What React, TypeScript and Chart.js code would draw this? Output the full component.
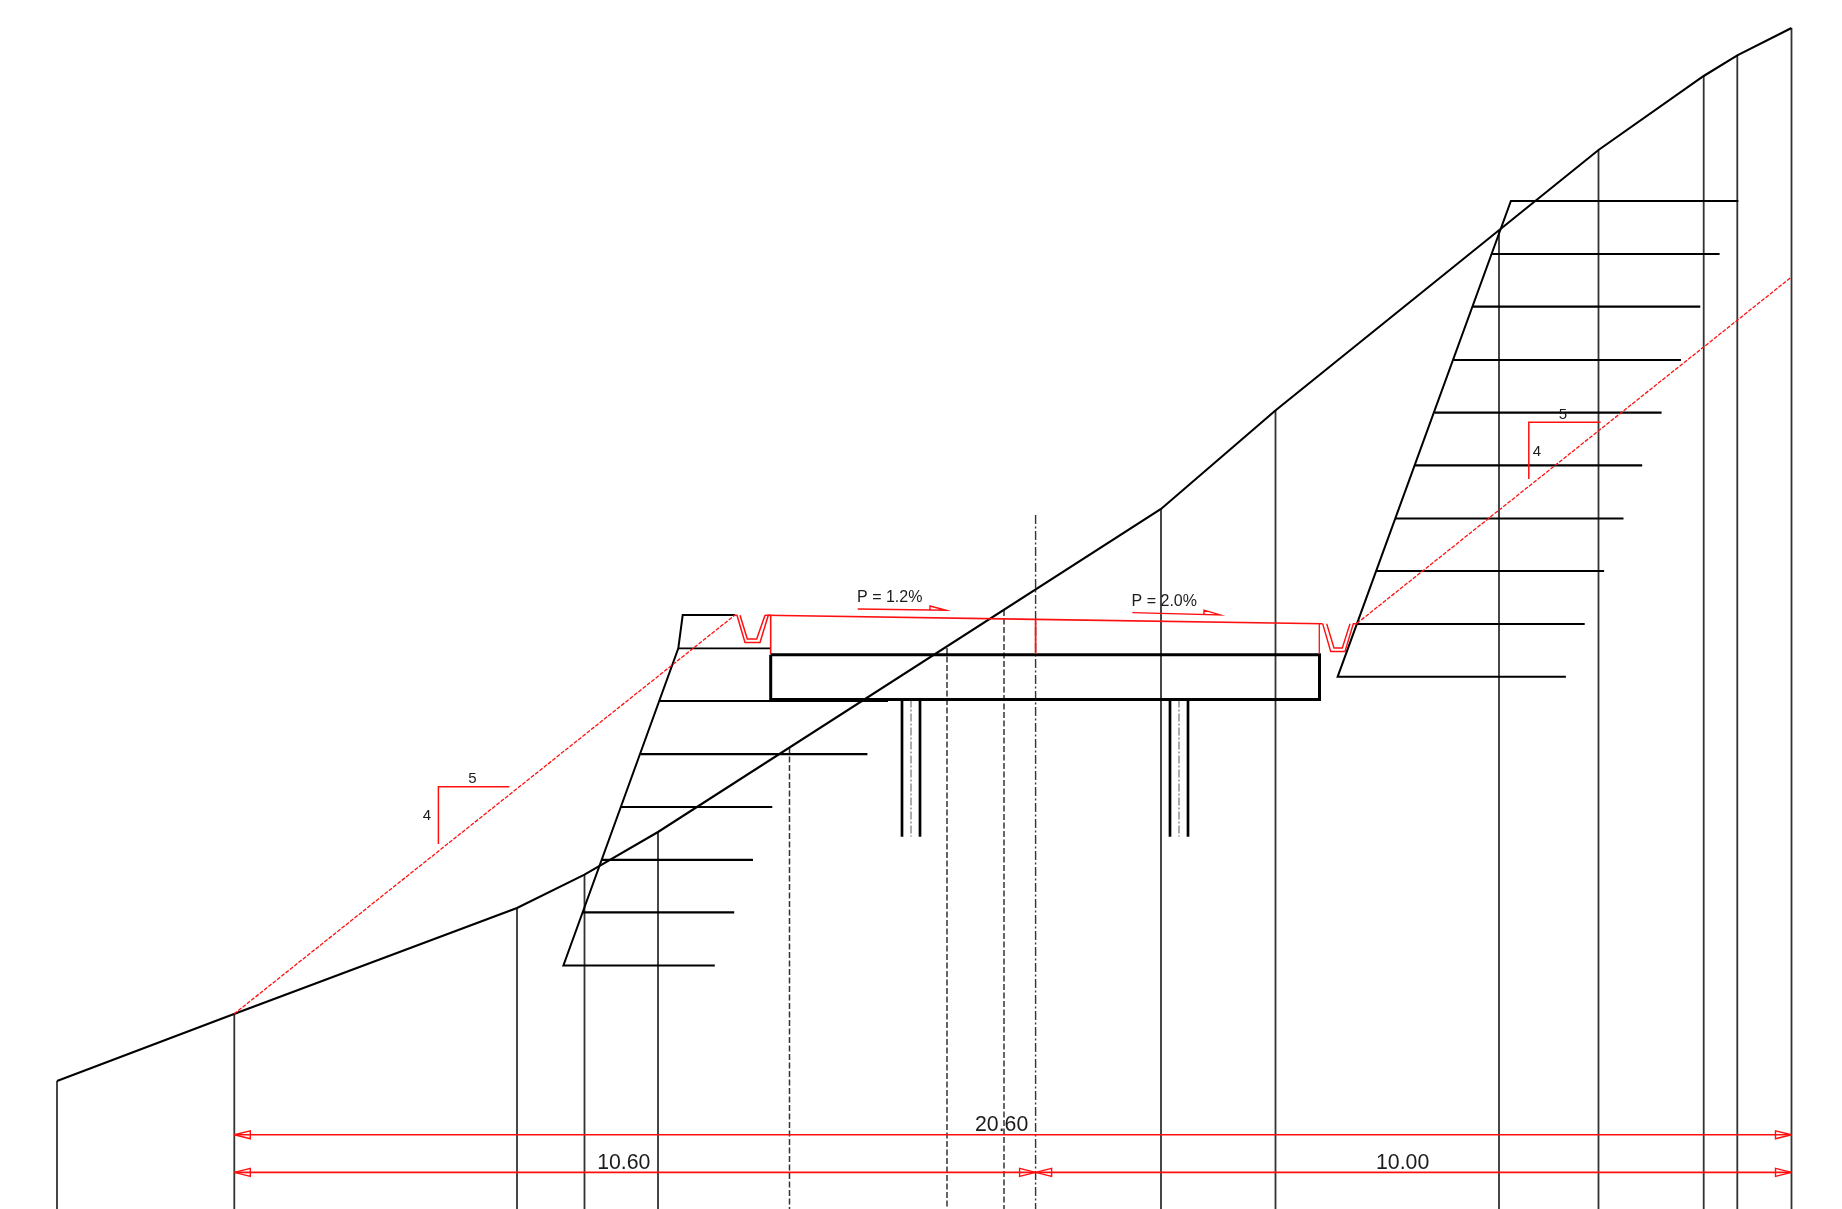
import React, { useEffect, useRef } from "react";
import { Chart, registerables } from "chart.js";

Chart.register(...registerables);

type Pt = [number, number];

// Cross-section geometry (station, depth in drawing units).
const groundLine: Pt[] = [[57, 1081], [234, 1014], [517, 908], [584.5, 874.6], [658, 832], [1161, 509], [1276, 410], [1598.5, 150], [1703.7, 76], [1737.3, 55.3], [1791.5, 28]];

const stationsSolid: Pt[] = [[57, 1081], [234.3, 1014], [517, 908], [584.5, 874.6], [658, 832], [1161, 509], [1275.5, 410], [1499, 231], [1598.5, 150], [1703.7, 76], [1737.3, 55.3], [1791.5, 28]];
const stationsDashed: Pt[] = [[789.5, 748], [947, 648], [1004, 610]];
const centreLineTop: Pt = [1035.6, 515];
const sectionBottom = 1209;

const leftWall: Pt[] = [[735, 615], [682.7, 615], [678.3, 648.3], [563.4, 965.4], [714.8, 965.4]];
const leftBenchY = [648.3, 701, 754.2, 807, 859.8, 912.4];
const leftBenchFrom = [678.3, 660, 640.8, 620.9, 601.5, 582.7];
const leftBenchTo = [770.5, 888, 867.4, 772.3, 753, 734.2];

const rightWall: Pt[] = [[1738.3, 201], [1510.9, 201], [1337.6, 676.8], [1565.9, 676.8]];
const rightBenchY = [254, 306.7, 360, 412.7, 465.3, 518.5, 571, 624];
const rightBenchFrom = [1491.8, 1473, 1453.8, 1434.5, 1414.8, 1395.9, 1376.5, 1356.5];
const rightBenchTo = [1719.6, 1700.3, 1681, 1661.6, 1642.2, 1623.5, 1604.1, 1584.7];

const deck: Pt[] = [[770.7, 654.8], [1319.5, 654.8], [1319.5, 699.5], [770.7, 699.5], [770.7, 654.8]];
const pierXs = [902, 920, 1170, 1188];
const pierCentreXs = [911, 1179];
const pierTop = 699.5;
const pierBottom = 836.7;

const leftCutSlope: Pt[] = [[234, 1014], [735, 615]];
const rightCutSlope: Pt[] = [[1357, 623.3], [1791.5, 277]];
const roadSurface: Pt[] = [[765, 615.2], [1035.6, 619.4], [1322.7, 623.8]];
const leftRoadEdge: Pt[] = [[770.7, 615.2], [770.7, 654]];
const crownDrop: Pt[] = [[1035.6, 619.4], [1035.6, 654]];
const rightRoadEdge: Pt[] = [[1319.3, 623.8], [1319.3, 654]];

const leftDitchOuter: Pt[] = [[735, 615.2], [737, 615.2], [745, 642.5], [760, 642.5], [768.3, 615.2], [771, 615.2]];
const leftDitchInner: Pt[] = [[740, 615.2], [747.3, 639], [756.7, 639], [765, 615.2]];
const rightDitchOuter: Pt[] = [[1322.7, 623.8], [1330.7, 651.5], [1345, 651.5], [1353.3, 623.8], [1357, 623.8]];
const rightDitchInner: Pt[] = [[1326.7, 623.8], [1334, 648], [1342.3, 648], [1350, 623.8]];

const leftSlopeMark: Pt[] = [[438.4, 844], [438.4, 786.8], [509.4, 786.8]];
const rightSlopeMark: Pt[] = [[1528.8, 479], [1528.8, 422.3], [1600.7, 422.3]];
const gradeArrowLeft: Pt[] = [[857.7, 609], [946, 610.2], [930, 606], [930, 610]];
const gradeArrowRight: Pt[] = [[1132.4, 612.6], [1220, 614.9], [1204, 610.2], [1204, 614.4]];

const dimTotalY = 1134.8;
const dimPartY = 1172.4;
const dimStart = 234.3;
const dimCentre = 1035.6;
const dimEnd = 1791.5;
const arrowLength = 16;
const arrowHalf = 4;

const labelTexts = ["P = 1.2%", "P = 2.0%", "20.60", "10.60", "10.00", "5", "4", "5", "4"];
const labelXs = [889.7, 1164.3, 1001.6, 623.8, 1402.6, 472.4, 427, 1563, 1536.8];
const labelYs = [597.5, 601.5, 1125, 1163, 1162.7, 778.8, 816, 414.8, 452.3];
const labelSizes = [16, 16, 21.3, 21.3, 21.3, 15, 15, 15, 15];

const RED = "#ff1010";
const BLACK = "#000000";
const GREY = "#333333";

const arrowHead = (x: number, y: number, dir: number): Pt[] => [
  [x, y],
  [x + dir * arrowLength, y - arrowHalf],
  [x + dir * arrowLength, y + arrowHalf],
  [x, y],
];

const line = (pts: Pt[], color: string, width: number, dash: number[] = []) => ({
  data: pts.map(([x, y]) => ({ x, y })),
  showLine: true,
  fill: false,
  tension: 0,
  borderColor: color,
  backgroundColor: color,
  borderWidth: width,
  borderDash: dash,
  borderJoinStyle: "miter" as const,
  pointRadius: 0,
  pointHoverRadius: 0,
});

const buildDatasets = () => [
  // First listed is painted on top.
  line([[dimStart, dimTotalY], [dimEnd, dimTotalY]], RED, 1.6),
  line([[dimStart, dimPartY], [dimEnd, dimPartY]], RED, 1.6),
  line(arrowHead(dimStart, dimTotalY, 1), RED, 1.4),
  line(arrowHead(dimEnd, dimTotalY, -1), RED, 1.4),
  line(arrowHead(dimStart, dimPartY, 1), RED, 1.4),
  line(arrowHead(dimCentre, dimPartY, -1), RED, 1.4),
  line(arrowHead(dimCentre, dimPartY, 1), RED, 1.4),
  line(arrowHead(dimEnd, dimPartY, -1), RED, 1.4),
  line(leftCutSlope, RED, 1.3, [4, 1.5]),
  line(rightCutSlope, RED, 1.3, [4, 1.5]),
  line(roadSurface, RED, 1.6),
  line(leftRoadEdge, RED, 1.6),
  line(crownDrop, RED, 1.7),
  line(rightRoadEdge, RED, 1.3),
  line(leftDitchOuter, RED, 1.5),
  line(leftDitchInner, RED, 1.5),
  line(rightDitchOuter, RED, 1.4),
  line(rightDitchInner, RED, 1.4),
  line(leftSlopeMark, RED, 1.5),
  line(rightSlopeMark, RED, 1.5),
  line(gradeArrowLeft, RED, 1.4),
  line(gradeArrowRight, RED, 1.4),
  line(groundLine, BLACK, 2.1),
  line(leftWall, BLACK, 2),
  line(rightWall, BLACK, 2),
  line(deck, BLACK, 3),
  ...leftBenchY.map((y, i) => line([[leftBenchFrom[i], y], [leftBenchTo[i], y]], BLACK, i === 0 ? 1.7 : 2.2)),
  ...rightBenchY.map((y, i) => line([[rightBenchFrom[i], y], [rightBenchTo[i], y]], BLACK, 2.2)),
  ...pierXs.map((x) => line([[x, pierTop], [x, pierBottom]], BLACK, 2.7)),
  ...pierCentreXs.map((x) => line([[x, pierTop], [x, pierBottom]], "#666666", 1.1, [8, 2, 2, 2])),
  ...stationsSolid.map(([x, y]) => line([[x, y], [x, sectionBottom]], GREY, 1.8)),
  ...stationsDashed.map(([x, y]) => line([[x, y], [x, sectionBottom]], GREY, 1.5, [6, 2.5])),
  line([centreLineTop, [centreLineTop[0], sectionBottom]], GREY, 1.4, [9, 2.5, 2, 2.5]),
];

const labelPlugin = {
  id: "sectionLabels",
  afterDatasetsDraw(chart: any) {
    const { ctx, scales } = chart;
    ctx.save();
    ctx.fillStyle = "#1c1c1c";
    ctx.textAlign = "center";
    ctx.textBaseline = "middle";
    labelTexts.forEach((t, i) => {
      ctx.font = `${labelSizes[i]}px "Liberation Sans", Arial, sans-serif`;
      ctx.fillText(t, scales.x.getPixelForValue(labelXs[i]), scales.y.getPixelForValue(labelYs[i]));
    });
    ctx.restore();
  },
};

export default function App() {
  const ref = useRef<HTMLCanvasElement>(null);
  useEffect(() => {
    if (!ref.current) return;
    const chart = new Chart(ref.current, {
      type: "scatter",
      data: { datasets: buildDatasets() as any },
      plugins: [labelPlugin],
      options: {
        animation: false,
        responsive: false,
        layout: { padding: 0 },
        events: [],
        plugins: { legend: { display: false }, tooltip: { enabled: false }, title: { display: false } },
        scales: {
          x: { type: "linear", min: 0, max: 1842, display: false },
          y: { type: "linear", min: 0, max: 1209, reverse: true, display: false },
        },
      },
    });
    return () => chart.destroy();
  }, []);
  return (
    <canvas
      ref={ref}
      width={1842}
      height={1209}
      style={{ position: "fixed", left: 0, top: 0, width: 1842, height: 1209, background: "#ffffff" }}
    />
  );
}
